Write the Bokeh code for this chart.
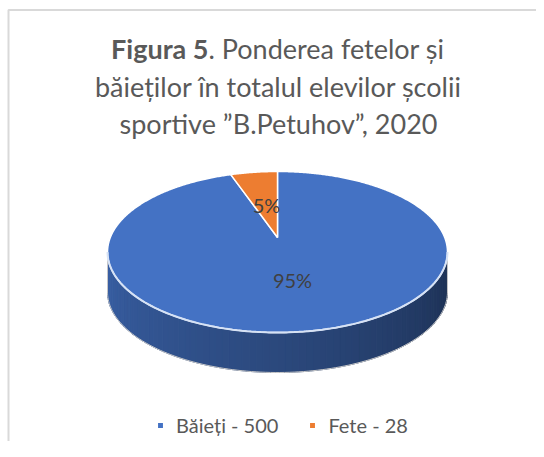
import numpy as np
from bokeh.plotting import figure
from bokeh.models import Range1d, Legend, LegendItem, ColumnDataSource
from bokeh.core.properties import value
from bokeh.embed import file_html
from bokeh.resources import INLINE

# ---------------- data ----------------
categories = ["Băieți", "Fete"]
counts = [500, 28]
colors = ["#4472C4", "#ED7D31"]
title_bold = "Figura 5"
title_line1_rest = ". Ponderea fetelor și"
title_lines = ["băieților în totalul elevilor școlii",
               "sportive ”B.Petuhov”, 2020"]

# ---------------- style / geometry ----------------
W, H = 536, 441
FONT = "Lato"
TITLE_SIZE = "27px"
CX, CY = 277.0, 237.0        # pie centre (px)
A, B, K = 167.2, 77.9, 0.18  # perspective ellipse params
DEPTH = 40.0
TITLE_X = 278
TITLE_Y = [48, 86, 123]
SPLIT_X = 208
LABEL_POS = [(292, 279), (266, 204)]

total = float(sum(counts))
fracs = [c / total for c in counts]
pct_labels = [f"{round(f * 100)}%" for f in fracs]
edges = np.concatenate([[0.0], np.cumsum(fracs) * 360.0])


def proj(theta_deg, r=1.0):
    t = np.radians(theta_deg)
    u = r * np.sin(t)
    v = r * np.cos(t)
    s = 1.0 + K * v
    return CX + A * u / s, CY - B * v / s


def shade(hex_color, f):
    h = hex_color.lstrip("#")
    rgb = [int(h[i:i + 2], 16) for i in (0, 2, 4)]
    return "#%02x%02x%02x" % tuple(max(0, min(255, int(c * f))) for c in rgb)


p = figure(width=W, height=H, x_range=Range1d(0, W), y_range=Range1d(H, 0),
           output_backend="svg", toolbar_location=None,
           x_axis_type=None, y_axis_type=None, min_border=0)
p.outline_line_color = None
p.grid.visible = False
p.background_fill_color = "white"
p.border_fill_color = "white"

# frame border (top & left visible)
p.line(x=[8, 8, W], y=[H, 9.5, 9.5], line_color="#d9d9d9", line_width=2)

# ---------------- side wall (front half) ----------------
th_r = np.degrees(np.arccos(-K))
th_l = 360.0 - th_r
n_strips = 80
ths = np.linspace(th_r, th_l, n_strips + 1)
sx, sy, sc = [], [], []
for i in range(n_strips):
    a0, a1 = ths[i], ths[i + 1]
    mid = 0.5 * (a0 + a1)
    idx = int(np.searchsorted(edges, mid, side="right") - 1)
    idx = min(max(idx, 0), len(counts) - 1)
    t = (th_l - mid) / (th_l - th_r)  # 0 at left, 1 at right
    if t < 0.5:
        f = 0.84 - (0.84 - 0.64) * (t / 0.5)
    else:
        f = 0.64 - (0.64 - 0.42) * ((t - 0.5) / 0.5)
    arc = np.linspace(a0, a1, 4)
    x_top, y_top = proj(arc)
    xs = list(x_top) + list(x_top[::-1])
    ys = list(y_top) + list((y_top + DEPTH)[::-1])
    sx.append(xs)
    sy.append(ys)
    sc.append(shade(colors[idx], f))
p.patches(xs=sx, ys=sy, fill_color=sc, line_color=sc, line_width=1)

# bottom silhouette line
arc = np.linspace(th_r, th_l, 120)
bx, by = proj(arc)
p.line(x=bx, y=by + DEPTH, line_color="#c8c8c8", line_width=1)
p.line(x=[bx[0], bx[0]], y=[by[0], by[0] + DEPTH], line_color="#c8c8c8", line_width=1)
p.line(x=[bx[-1], bx[-1]], y=[by[-1], by[-1] + DEPTH], line_color="#c8c8c8", line_width=1)

# ---------------- top surface ----------------
tx, ty = [], []
for i in range(len(counts)):
    n = max(int((edges[i + 1] - edges[i]) * 2), 8)
    arc = np.linspace(edges[i], edges[i + 1], n)
    x, y = proj(arc)
    tx.append([CX] + list(x))
    ty.append([CY] + list(y))
src = ColumnDataSource(dict(xs=tx, ys=ty, color=colors, label=categories))
top = p.patches(xs="xs", ys="ys", fill_color="color", line_color="white",
                line_width=1.5, source=src)

# light rim on front edge
fx, fy = proj(np.linspace(th_r, th_l, 120))
p.line(x=fx, y=fy, line_color="#d6e2f5", line_width=2)

# ---------------- data labels ----------------
p.text(x=[q[0] for q in LABEL_POS], y=[q[1] for q in LABEL_POS], text=pct_labels,
       text_font=value(FONT), text_font_size="20px", text_color="#404040",
       text_align="center", text_baseline="middle")

# ---------------- title ----------------
p.text(x=[SPLIT_X], y=[TITLE_Y[0]], text=[title_bold], text_font=value(FONT),
       text_font_style="bold", text_font_size=TITLE_SIZE, text_color="#595959",
       text_align="right", text_baseline="middle")
p.text(x=[SPLIT_X], y=[TITLE_Y[0]], text=[title_line1_rest], text_font=value(FONT),
       text_font_size=TITLE_SIZE, text_color="#595959",
       text_align="left", text_baseline="middle")
p.text(x=[TITLE_X, TITLE_X], y=TITLE_Y[1:], text=title_lines, text_font=value(FONT),
       text_font_size=TITLE_SIZE, text_color="#595959",
       text_align="center", text_baseline="middle")

# ---------------- legend ----------------
items = [LegendItem(label=f"{c} - {n}", renderers=[top], index=i)
         for i, (c, n) in enumerate(zip(categories, counts))]
legend = Legend(items=items, orientation="horizontal", location=(156, 4),
                label_text_font=FONT, label_text_font_size="20px",
                label_text_color="#595959", glyph_width=8, glyph_height=8,
                label_standoff=12, spacing=30, padding=0, margin=0,
                border_line_color=None, background_fill_alpha=0)
p.add_layout(legend, "center")

open("out.html", "w").write(file_html(p, INLINE))
